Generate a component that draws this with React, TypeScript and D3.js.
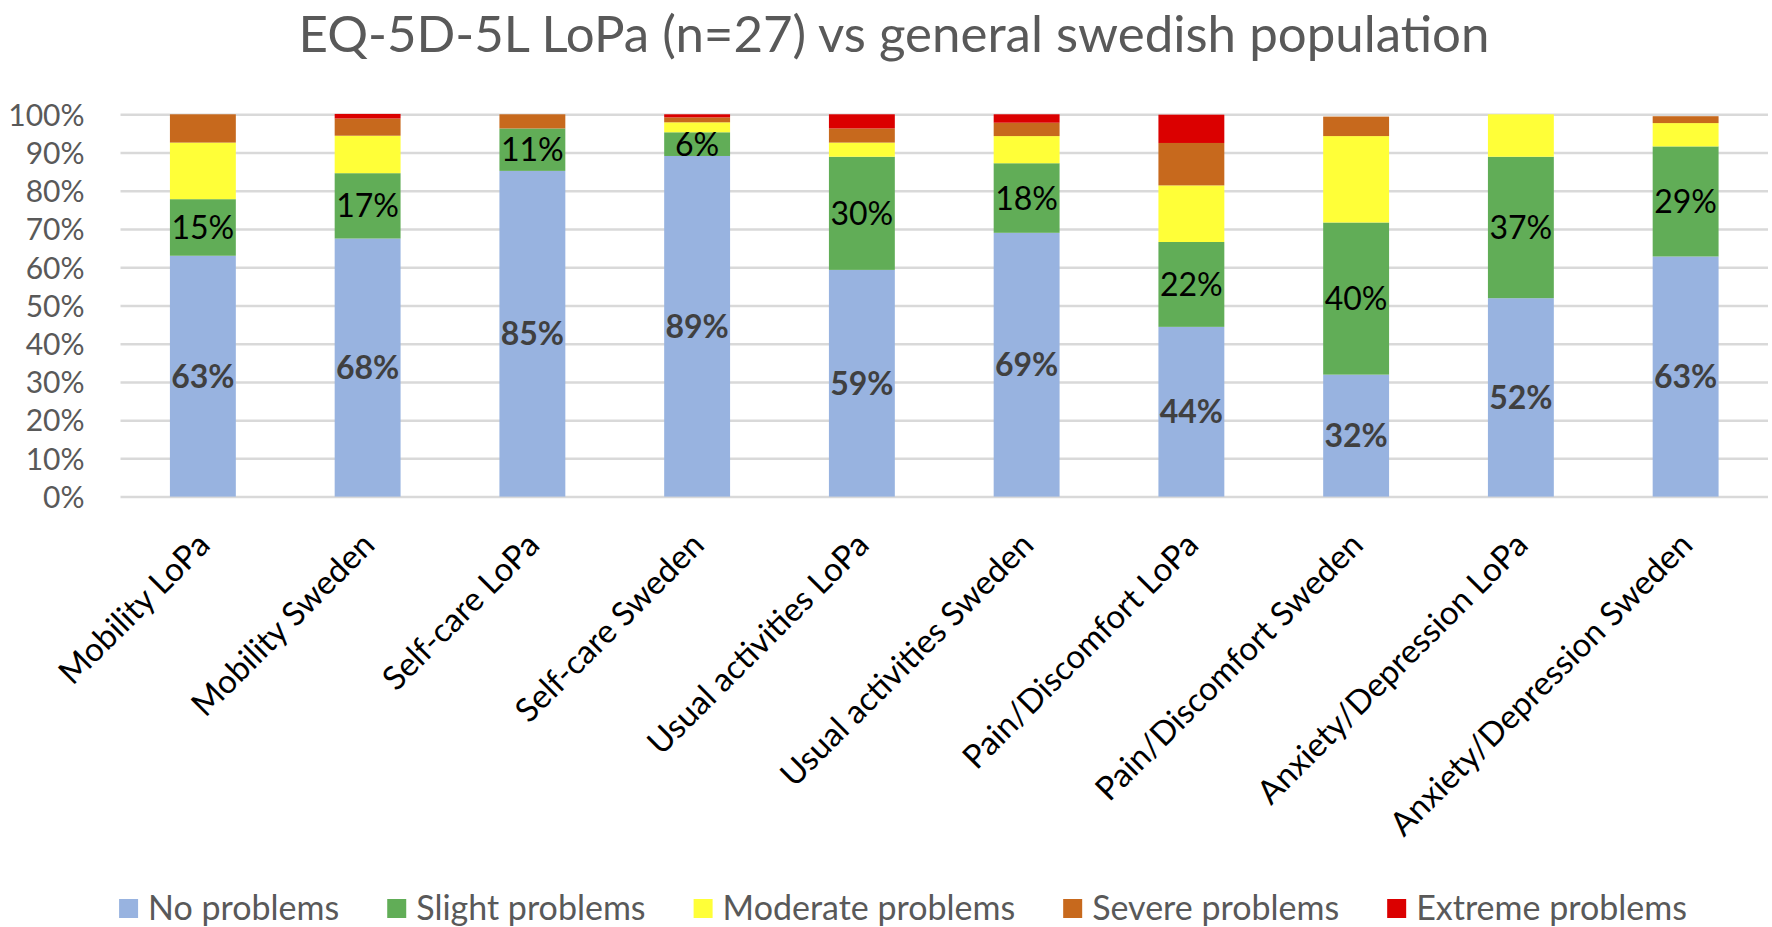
import React from 'react';
import * as d3 from 'd3';

const categories = [
  'Mobility LoPa',
  'Mobility Sweden',
  'Self-care LoPa',
  'Self-care Sweden',
  'Usual activities LoPa',
  'Usual activities Sweden',
  'Pain/Discomfort LoPa',
  'Pain/Discomfort Sweden',
  'Anxiety/Depression LoPa',
  'Anxiety/Depression Sweden',
];

// percentages
const noProblems = [63.0, 67.5, 85.2, 89.1, 59.3, 69.0, 44.4, 31.9, 51.9, 62.8];
const slightProblems = [14.8, 17.1, 11.1, 6.2, 29.6, 18.2, 22.2, 39.8, 37.0, 28.8];
const moderateProblems = [14.8, 9.8, 0, 2.6, 3.7, 7.1, 14.8, 22.6, 11.1, 6.1];
const severeProblems = [7.4, 4.5, 3.7, 1.3, 3.7, 3.5, 11.1, 5.1, 0, 1.8];
const extremeProblems = [0, 1.2, 0, 0.8, 3.7, 2.2, 7.4, 0, 0, 0];

const seriesNames = ['No problems', 'Slight problems', 'Moderate problems', 'Severe problems', 'Extreme problems'];
const seriesColors = ['#98b3e0', '#61ad57', '#ffff38', '#c7691d', '#db0000'];
const yTicks = [0, 10, 20, 30, 40, 50, 60, 70, 80, 90, 100];

const title = 'EQ-5D-5L LoPa (n=27) vs general swedish population';

const W = 1772;
const H = 927;
const plot = { left: 120.5, right: 1768, top: 114.3, bottom: 496.6 };
const FONT = 'Lato, "Open Sans", sans-serif';

const App: React.FC = () => {
  const ref = React.useRef<SVGSVGElement>(null);

  React.useEffect(() => {
    const svg = d3.select(ref.current);
    svg.selectAll('*').remove();

    const values = [noProblems, slightProblems, moderateProblems, severeProblems, extremeProblems];
    const rows = categories.map((c, i) => {
      const row: any = { cat: c };
      seriesNames.forEach((s, k) => (row[s] = values[k][i]));
      return row;
    });
    const stacked = d3.stack<any>().keys(seriesNames)(rows);

    const x = d3.scaleBand().domain(categories).range([plot.left, plot.right]).paddingInner(0.6).paddingOuter(0.3);
    const y = d3.scaleLinear().domain([0, 100]).range([plot.bottom, plot.top]);

    svg.append('text')
      .attr('x', 894)
      .attr('y', 52)
      .attr('text-anchor', 'middle')
      .style('font-family', FONT)
      .style('font-size', '51px')
      .style('fill', '#595959')
      .text(title);

    // gridlines + tick labels
    const yAxis = svg.append('g')
      .attr('transform', `translate(${plot.left},0)`)
      .call(d3.axisLeft(y).tickValues(yTicks).tickSize(-(plot.right - plot.left)).tickFormat(d => `${d}%`));
    yAxis.select('.domain').remove();
    yAxis.selectAll('.tick line').attr('stroke', '#d9d9d9').attr('stroke-width', 2.5);
    yAxis.selectAll('.tick text')
      .attr('x', -36)
      .attr('dy', '0.36em')
      .style('font-family', FONT)
      .style('font-size', '30px')
      .style('fill', '#595959');

    const layers = svg.append('g').selectAll('g').data(stacked).enter().append('g')
      .attr('fill', (_d, i) => seriesColors[i]);
    layers.selectAll('rect').data(d => d).enter().append('rect')
      .attr('x', d => x(d.data.cat)!)
      .attr('width', x.bandwidth())
      .attr('y', d => y(d[1]))
      .attr('height', d => y(d[0]) - y(d[1]));

    // data labels for first two series
    const fmt = (v: number) => `${Math.round(v)}%`;
    stacked.slice(0, 2).forEach((layer, k) => {
      svg.append('g').selectAll('text').data(layer).enter().append('text')
        .attr('x', d => x(d.data.cat)! + x.bandwidth() / 2)
        .attr('y', d => y((d[0] + d[1]) / 2))
        .attr('dy', '0.36em')
        .attr('text-anchor', 'middle')
        .style('font-family', FONT)
        .style('font-size', '32px')
        .style('font-weight', k === 0 ? 'bold' : 'normal')
        .style('fill', k === 0 ? '#404040' : '#000000')
        .text(d => fmt(d[1] - d[0]));
    });

    // category labels
    svg.append('g').selectAll('text').data(categories).enter().append('text')
      .attr('transform', d => `translate(${x(d)! + x.bandwidth() / 2 + 9},${547}) rotate(-45)`)
      .attr('text-anchor', 'end')
      .style('font-family', FONT)
      .style('font-size', '33px')
      .style('fill', '#000000')
      .text(d => d);

    // legend
    const legend = svg.append('g');
    const items = legend.selectAll('g').data(seriesNames).enter().append('g');
    items.append('rect').attr('width', 19).attr('height', 19).attr('y', 899).attr('fill', (_d, i) => seriesColors[i]);
    items.append('text')
      .attr('x', 29)
      .attr('y', 920)
      .style('font-family', FONT)
      .style('font-size', '34px')
      .style('fill', '#595959')
      .text(d => d);
    let cx = 0;
    const gap = 48;
    items.each(function () {
      const g = d3.select(this);
      const tw = (g.select('text').node() as SVGTextElement).getComputedTextLength();
      g.attr('data-x', cx);
      cx += 29 + tw + gap;
    });
    const total = cx - gap;
    const start = 903 - total / 2;
    items.attr('transform', function () {
      return `translate(${start + +d3.select(this).attr('data-x')},0)`;
    });
  }, []);

  return (
    <svg ref={ref} width={W} height={H} style={{ position: 'absolute', left: 0, top: 0, background: '#fff' }} />
  );
};

export default App;
